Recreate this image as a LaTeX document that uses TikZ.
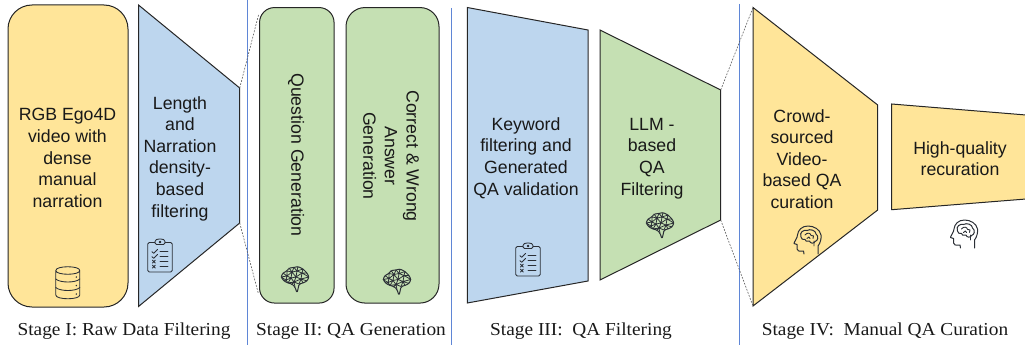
\documentclass[tikz,border=0pt]{standalone}
\usepackage{fontspec}
\setmainfont{Liberation Sans}
\newfontfamily\capfont[FakeStretch=1.06]{Liberation Serif}
\definecolor{yelfill}{HTML}{FFE599}
\definecolor{blufill}{HTML}{BDD6EE}
\definecolor{grefill}{HTML}{C5E0B3}
\definecolor{sepline}{HTML}{5F86D6}
\definecolor{iconline}{HTML}{2B2F36}
\tikzset{
  panel/.style={draw=black!85,line width=1pt,line join=miter},
  roundpanel/.style={panel,inner sep=0pt,minimum width=#1},
  bodytext/.style={font=\fontsize{17.7}{21.6}\selectfont,align=center,text=black!90,inner sep=0pt},
  captext/.style={font=\capfont\fontsize{18.26}{21}\selectfont,text=black!90,inner sep=0pt},
  sep/.style={draw=sepline,line width=1pt},
  zoomline/.style={draw=black!65,line width=.6pt,dash pattern=on 1.8pt off 1.4pt},
  icon/.style={draw=iconline,line width=.85pt,line cap=round,line join=round},
  dbicon/.pic={
    \draw[icon] (-12,-12.5) .. controls (-12,-17.5) and (12,-17.5) .. (12,-12.5)
      .. controls (12,-7.5) and (-12,-7.5) .. (-12,-12.5) -- (-12,12)
      .. controls (-12,17) and (12,17) .. (12,12) -- (12,-12.5);
    \draw[icon] (-12,-4) .. controls (-8,0) and (8,0) .. (12,-4);
    \draw[icon] (-12,4.5) .. controls (-8,8.5) and (8,8.5) .. (12,4.5);
    \foreach \yy in {-6,2.5,11}{\fill[iconline] (8.5,\yy) circle (.8pt);}
  },
  clipicon/.pic={
    \draw[icon,rounded corners=1.5pt] (-5,-14.5) -- (-12.3,-14.5) -- (-12.3,15) -- (12.3,15) -- (12.3,-14.5) -- (5,-14.5);
    \draw[icon,rounded corners=1.5pt] (-5,-12.5) -- (-5,-17) -- (-2,-18) -- (2,-18) -- (5,-17) -- (5,-12.5) -- cycle;
    \draw[icon] (0,-15) circle (.9pt);
    \foreach \yy in {-5.3,-.3,4.7,9.7}{\draw[icon] (0,\yy) -- (8,\yy);}
    \foreach \yy in {-5.3,-.3}{\draw[icon] (-8,\yy) -- (-6.3,\yy+1.6) -- (-2.5,\yy-2.2);}
    \foreach \yy in {4.7,9.7}{\draw[icon] (-7.6,\yy-1.6) -- (-4.6,\yy+1.4) (-7.6,\yy+1.4) -- (-4.6,\yy-1.6);}
  },
  brainicon/.pic={
    \draw[icon,line width=1pt,rounded corners=1.5pt] (-14,1) -- (-12,-3) -- (-8,-5) -- (-6,-8) -- (-1,-8.5) -- (3,-9.5) -- (8,-7) -- (12,-3) -- (14,1) -- (12,5) -- (8,7) -- (4,8) -- (3.5,11) -- (2,17) -- (0,11) -- (-3,8) -- (-7,7) -- (-11,5) -- cycle;
    \draw[icon,line width=.75pt]
      (-14,1) -- (-8,0) -- (-12,-3) (-8,0) -- (-8,-5) (-8,0) -- (-3,-4) -- (-8,-5) (-3,-4) -- (-6,-8) (-3,-4) -- (-1,-8.5) -- (2,-5) -- (-3,-4)
      (2,-5) -- (3,-9.5) (2,-5) -- (8,-7) -- (7,-3) -- (2,-5) (7,-3) -- (12,-3) (7,-3) -- (14,1) (7,-3) -- (6,3) -- (14,1) (6,3) -- (12,5) (6,3) -- (8,7) (6,3) -- (4,8)
      (6,3) -- (1,1) -- (7,-3) (1,1) -- (2,-5) (1,1) -- (-3,-4) (1,1) -- (-4,2) -- (-3,-4) (-4,2) -- (-8,0) (-4,2) -- (-9,4) -- (-8,0) (-9,4) -- (-14,1) (-9,4) -- (-11,5) (-9,4) -- (-7,7) (-4,2) -- (-7,7)
      (-4,2) -- (-1,6) -- (1,1) (-1,6) -- (6,3) (-1,6) -- (4,8) (-1,6) -- (0,11) (-1,6) -- (-3,8) (-1,6) -- (-7,7);
  },
  headicon/.pic={
    \draw[icon,line width=1pt] (11,14) -- (11,6) .. controls (13.5,3) and (14.5,-2) .. (14,-5)
      .. controls (13,-10.5) and (7,-14) .. (1,-14)
      .. controls (-5,-14) and (-9,-10) .. (-9.5,-5)
      .. controls (-9.5,-2) and (-13,2) .. (-13,3.5) -- (-10,4.5) -- (-10,9)
      .. controls (-10,11) and (-8,11.5) .. (-3.5,11) -- (-3,14);
    \draw[icon,line width=1pt] (-6,-3) .. controls (-8,-8) and (-3,-10.5) .. (0,-9.5)
      .. controls (3,-11.5) and (9,-9.5) .. (9,-6) .. controls (12,-4) and (11,1) .. (8,1.5)
      .. controls (7,4) and (3,3.5) .. (2.5,1) .. controls (0,2) and (-2,1) .. (-2,-.5)
      .. controls (-4,0) and (-6,-1) .. (-6,-3) -- cycle;
    \draw[icon,line width=.9pt] (-2,-5) .. controls (0,-8) and (4,-7) .. (4,-4.5) (4,-4.5) .. controls (6,-6) and (8,-3) .. (6,-1.5) (0,-1.5) .. controls (1,-4) and (3,-3) .. (3,-1.5) (7,1) -- (7,6);
  }
}
\begin{document}
\begin{tikzpicture}[x=1pt,y=-1pt]
\useasboundingbox (0,0) rectangle (1025,345);
% separators
\coordinate (s1a) at (247.5,0); \coordinate (s1b) at (247.5,345);
\coordinate (s2a) at (451.5,8); \coordinate (s2b) at (451.5,345);
\coordinate (s3a) at (739.5,4); \coordinate (s3b) at (739.5,345);
\draw[sep] (s1a) -- (s1b);
\draw[sep] (s2a) -- (s2b);
\draw[sep] (s3a) -- (s3b);
% stage I
\node[roundpanel=120pt,rounded corners=24pt,fill=yelfill,minimum height=302pt] (rawbox) at (68,156) {};
\coordinate (f1) at (138.5,5); \coordinate (f2) at (239.7,88); \coordinate (f3) at (239.7,223); \coordinate (f4) at (138.5,306.5);
\draw[panel,fill=blufill] (f1) -- (f2) -- (f3) -- (f4) -- cycle;
% stage II
\node[roundpanel=74.5pt,rounded corners=15pt,fill=grefill,minimum height=295.5pt] (qbox) at (296.8,155.3) {};
\node[roundpanel=93pt,rounded corners=19pt,fill=grefill,minimum height=295.5pt] (abox) at (392.5,155.3) {};
\coordinate (z1a) at (258.5,15); \coordinate (z1b) at (258.5,294);
\draw[zoomline] (f2) -- (z1a);
\draw[zoomline] (f3) -- (z1b);
% stage III
\coordinate (k1) at (467.3,7.5); \coordinate (k2) at (588,30); \coordinate (k3) at (588,281); \coordinate (k4) at (467.3,303);
\draw[panel,fill=blufill] (k1) -- (k2) -- (k3) -- (k4) -- cycle;
\coordinate (l1) at (600,30); \coordinate (l2) at (720.7,90); \coordinate (l3) at (720.7,220); \coordinate (l4) at (600,280);
\draw[panel,fill=grefill] (l1) -- (l2) -- (l3) -- (l4) -- cycle;
% stage IV
\coordinate (c1) at (753,7.5); \coordinate (c2) at (877.7,105); \coordinate (c3) at (877.7,210); \coordinate (c4) at (753,306);
\draw[panel,fill=yelfill] (c1) -- (c2) -- (c3) -- (c4) -- cycle;
\coordinate (h1) at (891.7,104); \coordinate (h2) at (1026,115); \coordinate (h3) at (1026,199); \coordinate (h4) at (891.7,209.7);
\draw[panel,fill=yelfill] (h1) -- (h2) -- (h3) -- (h4) -- cycle;
\draw[zoomline] (l2) -- (c1);
\draw[zoomline] (l3) -- (c4);
% texts
\node[bodytext] (t1) at (67.5,158) {RGB Ego4D\\video with\\dense\\manual\\narration};
\node[bodytext] (t2) at (180,158.5) {Length\\and\\Narration\\density-\\based\\filtering};
\node[bodytext,rotate=-90] (t3) at (296,155) {Question Generation};
\node[bodytext,rotate=-90] (t4) at (391,156) {Correct \& Wrong\\Answer\\Generation};
\node[bodytext] (t5) at (526,158) {Keyword\\filtering and\\Generated\\QA validation};
\node[bodytext] (t6) at (652,158.5) {LLM -\\based\\QA\\Filtering};
\node[bodytext] (t7) at (802,159) {Crowd-\\sourced\\Video-\\based QA\\curation};
\node[bodytext] (t8) at (960,158.5) {High-quality\\recuration};
% icons
\pic at (67.8,283) {dbicon};
\pic at (160,257) {clipicon};
\pic at (528,261) {clipicon};
\pic at (295,276) {brainicon};
\pic at (397,278.5) {brainicon};
\pic at (660,222) {brainicon};
\pic at (807,240) {headicon};
\pic at (963.5,234) {headicon};
% captions
\node[captext] (cap1) at (124,331.5) {Stage I: Raw Data Filtering};
\node[captext] (cap2) at (351,331.5) {Stage II: QA Generation};
\node[captext] (cap3) at (581,331.5) {Stage III:\ \ QA Filtering};
\node[captext] (cap4) at (885,331.5) {Stage IV:\ \ Manual QA Curation};
\end{tikzpicture}
\end{document}
